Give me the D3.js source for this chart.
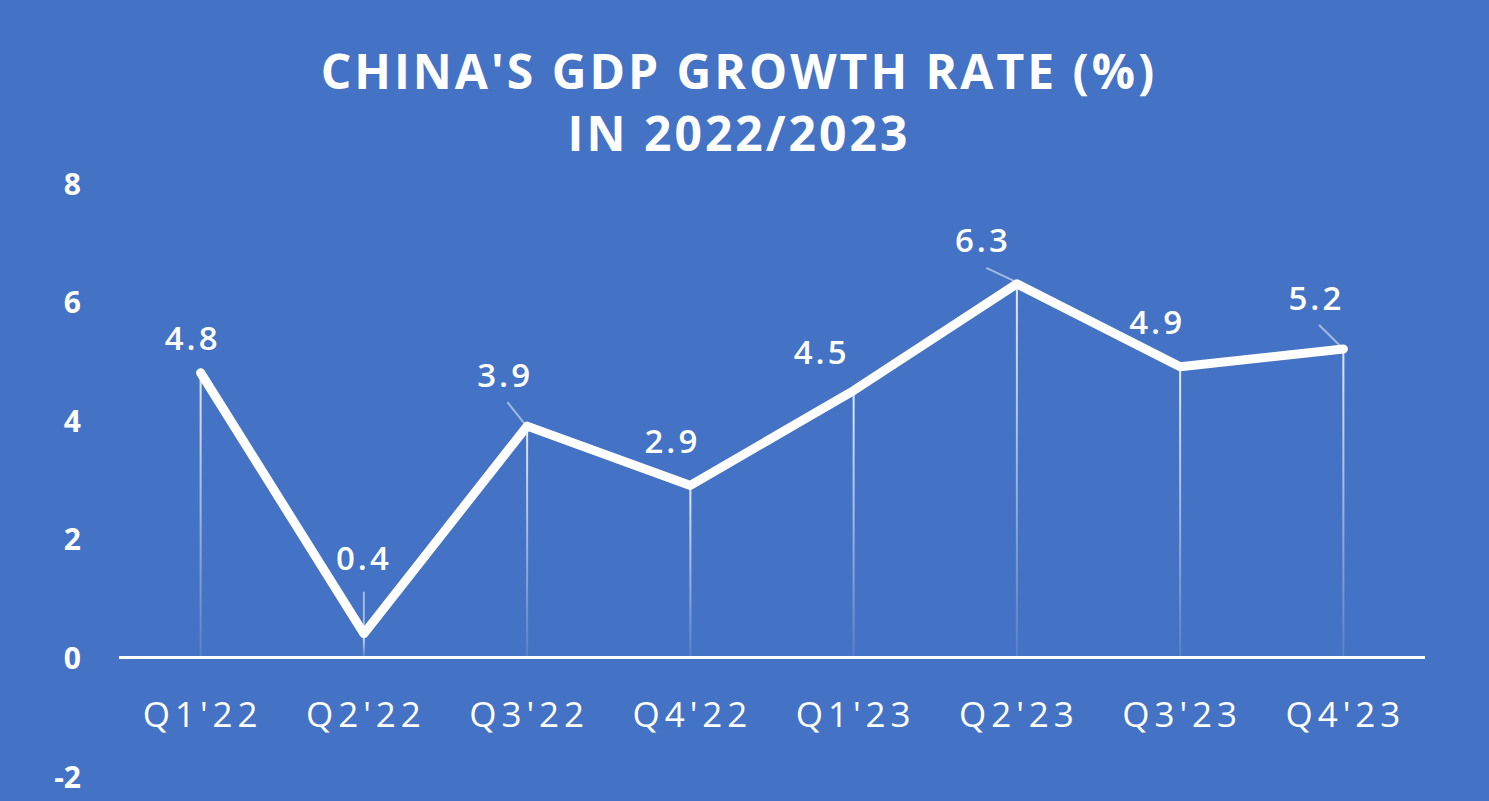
<!DOCTYPE html>
<html>
<head>
<meta charset="utf-8">
<script src="https://cdn.jsdelivr.net/npm/d3@7"></script>
<style>
  html, body { margin: 0; padding: 0; background: #4472c4; }
  svg { display: block; font-family: "Open Sans", sans-serif; }
</style>
</head>
<body>
<div id="chart"></div>
<script>
// data
const quarters = ["Q1'22", "Q2'22", "Q3'22", "Q4'22", "Q1'23", "Q2'23", "Q3'23", "Q4'23"];
const gdpGrowth = [4.8, 0.4, 3.9, 2.9, 4.5, 6.3, 4.9, 5.2];
const yTicks = [-2, 0, 2, 4, 6, 8];
const titleLines = ["CHINA'S GDP GROWTH RATE (%)", "IN 2022/2023"];

// label offsets (dx, dy from point) and whether a leader line is drawn
const labelOffsets = [
    { dx: -8, dy: -35, leader: false },
    { dx: 0, dy: -76, leader: true },
    { dx: -22, dy: -52, leader: true },
    { dx: -18, dy: -45, leader: false },
    { dx: -32, dy: -39, leader: false },
    { dx: -34, dy: -44, leader: true },
    { dx: -23, dy: -45, leader: false },
    { dx: -27, dy: -52, leader: true }
];

const W = 1489, H = 801;

const svg = d3.select('#chart')
    .append('svg')
    .attr('width', W)
    .attr('height', H);

svg.append('rect')
    .attr('width', W)
    .attr('height', H)
    .attr('fill', '#4472c4');

// Scale
const x = d3.scaleBand()
    .domain(quarters)
    .range([119, 1425]);

const y = d3.scaleLinear()
    .domain([-2, 8])
    .range([776, 183]);

const cx = d => x(d) + x.bandwidth() / 2;

// gradiente per le linee verticali
const defs = svg.append('defs');
const grad = defs.append('linearGradient')
    .attr('id', 'dropFade')
    .attr('x1', 0).attr('y1', 0)
    .attr('x2', 0).attr('y2', 1);
grad.append('stop').attr('offset', '0%').attr('stop-color', '#fff').attr('stop-opacity', 0.85);
grad.append('stop').attr('offset', '100%').attr('stop-color', '#fff').attr('stop-opacity', 0.1);

// Titolo
svg.selectAll('.title')
    .data(titleLines)
    .enter()
    .append('text')
    .attr('x', 739)
    .attr('y', (d, i) => 89 + i * 62)
    .attr('text-anchor', 'middle')
    .attr('font-size', '48px')
    .attr('font-weight', 700)
    .attr('letter-spacing', '3px')
    .attr('fill', '#fff')
    .text(d => d);

// Labels asse Y
svg.selectAll('.y-label')
    .data(yTicks)
    .enter()
    .append('text')
    .attr('x', 81)
    .attr('y', d => y(d))
    .attr('text-anchor', 'end')
    .attr('dominant-baseline', 'central')
    .attr('font-size', '30px')
    .attr('font-weight', 700)
    .attr('fill', '#fff')
    .text(d => d);

// Linee verticali verso lo zero
svg.selectAll('.drop')
    .data(gdpGrowth)
    .enter()
    .append('rect')
    .attr('x', (d, i) => cx(quarters[i]) - 1)
    .attr('y', d => y(d))
    .attr('width', 2)
    .attr('height', d => y(0) - y(d))
    .attr('fill', 'url(#dropFade)');

// Asse zero
svg.append('line')
    .attr('x1', x.range()[0])
    .attr('x2', x.range()[1])
    .attr('y1', y(0))
    .attr('y2', y(0))
    .attr('stroke', '#fff')
    .attr('stroke-width', 3);

// Labels asse X
svg.selectAll('.x-label')
    .data(quarters)
    .enter()
    .append('text')
    .attr('x', d => cx(d) + 2)
    .attr('y', 713)
    .attr('text-anchor', 'middle')
    .attr('dominant-baseline', 'central')
    .attr('font-size', '35px')
    .attr('letter-spacing', '5px')
    .attr('fill', '#fff')
    .text(d => d);

// Linea
const line = d3.line()
    .x((d, i) => cx(quarters[i]))
    .y(d => y(d));

svg.append('path')
    .datum(gdpGrowth)
    .attr('d', line)
    .attr('fill', 'none')
    .attr('stroke', '#fff')
    .attr('stroke-width', 9)
    .attr('stroke-linejoin', 'round')
    .attr('stroke-linecap', 'round');

// Leader lines
svg.selectAll('.leader')
    .data(gdpGrowth.map((v, i) => ({ v, i, o: labelOffsets[i] })).filter(d => d.o.leader))
    .enter()
    .append('line')
    .attr('x1', d => cx(quarters[d.i]) + d.o.dx * 0.9)
    .attr('y1', d => y(d.v) + (d.o.dx === 0 ? d.o.dy + 34 : d.o.dy + 28))
    .attr('x2', d => cx(quarters[d.i]) - (d.o.dx === 0 ? 0 : 3))
    .attr('y2', d => y(d.v) - (d.o.dx === 0 ? 6 : 3))
    .attr('stroke', '#fff')
    .attr('stroke-opacity', 0.5)
    .attr('stroke-width', 2);

// Data labels
svg.selectAll('.value-label')
    .data(gdpGrowth)
    .enter()
    .append('text')
    .attr('x', (d, i) => cx(quarters[i]) + labelOffsets[i].dx)
    .attr('y', (d, i) => y(d) + labelOffsets[i].dy)
    .attr('text-anchor', 'middle')
    .attr('dominant-baseline', 'central')
    .attr('font-size', '33px')
    .attr('font-weight', 600)
    .attr('letter-spacing', '3px')
    .attr('fill', '#fff')
    .text(d => d.toFixed(1));
</script>
</body>
</html>
